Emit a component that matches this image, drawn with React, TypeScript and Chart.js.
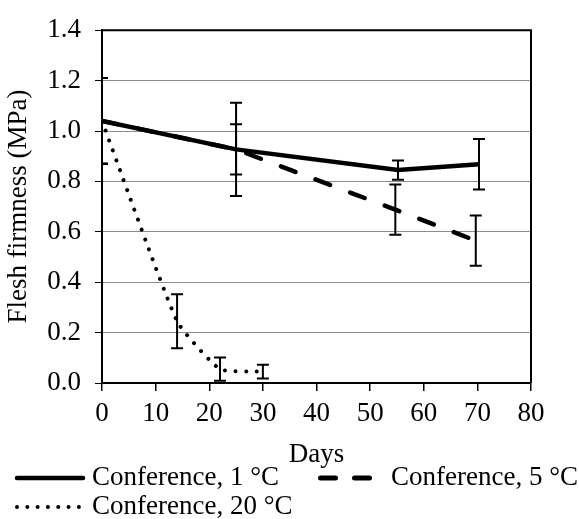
import React, { useEffect, useRef } from "react";
import { Chart, registerables } from "chart.js";

Chart.register(...registerables);

const FONT = "'Liberation Serif', 'Times New Roman', serif";

// Conference, 1 °C
const days1 = [0, 25, 55.2, 70.3];
const firm1 = [1.04, 0.927, 0.845, 0.868];
const err1 = [0.17, 0.185, 0.038, 0.1];

// Conference, 5 °C
const days5 = [0, 25, 54.7, 69.7];
const firm5 = [1.04, 0.927, 0.688, 0.565];
const err5 = [0.17, 0.1, 0.1, 0.1];

// Conference, 20 °C
const days20 = [0, 14, 22, 30];
const firm20 = [1.04, 0.245, 0.055, 0.045];
const err20 = [0.17, 0.107, 0.046, 0.027];

const seriesLabels = ["Conference, 1 °C", "Conference, 5 °C", "Conference, 20 °C"];
const xTitle = "Days";
const yTitle = "Flesh firmness (MPa)";
const xMin = 0, xMax = 80, xStep = 10;
const yMin = 0, yMax = 1.4, yStep = 0.2;

const seriesDays = [days1, days5, days20];
const seriesFirm = [firm1, firm5, firm20];
const seriesErr = [err1, err5, err20];

const errorBarsPlugin = {
  id: "errorBars",
  afterDatasetsDraw(chart: any) {
    const { ctx, chartArea, scales } = chart;
    const x = scales.x, y = scales.y;
    ctx.save();
    ctx.beginPath();
    ctx.rect(chartArea.left, chartArea.top, chartArea.right - chartArea.left, chartArea.bottom - chartArea.top);
    ctx.clip();
    ctx.strokeStyle = "#000";
    ctx.lineWidth = 2;
    ctx.lineCap = "butt";
    seriesDays.forEach((days, s) => {
      days.forEach((d, i) => {
        const e = seriesErr[s][i];
        if (!e) return;
        const px = x.getPixelForValue(d);
        const pt = y.getPixelForValue(seriesFirm[s][i] + e);
        const pb = y.getPixelForValue(seriesFirm[s][i] - e);
        ctx.beginPath();
        ctx.moveTo(px, pt);
        ctx.lineTo(px, pb);
        ctx.moveTo(px - 6, pt);
        ctx.lineTo(px + 6, pt);
        ctx.moveTo(px - 6, pb);
        ctx.lineTo(px + 6, pb);
        ctx.stroke();
      });
    });
    ctx.restore();
  },
};

const frameLegendPlugin = {
  id: "frameLegend",
  beforeDatasetsDraw(chart: any) {
    const { ctx, chartArea } = chart;
    ctx.save();
    ctx.strokeStyle = "#000";
    ctx.lineWidth = 2;
    ctx.beginPath();
    ctx.moveTo(chartArea.left, chartArea.top);
    ctx.lineTo(chartArea.right, chartArea.top);
    ctx.lineTo(chartArea.right, chartArea.bottom);
    ctx.stroke();
    ctx.restore();
  },
  afterDraw(chart: any) {
    const { ctx } = chart;
    ctx.save();
    ctx.strokeStyle = "#000";
    ctx.fillStyle = "#000";
    ctx.font = `27px ${FONT}`;
    ctx.textBaseline = "alphabetic";
    ctx.textAlign = "left";
    // solid sample
    ctx.lineWidth = 4.5;
    ctx.lineCap = "round";
    ctx.setLineDash([]);
    ctx.beginPath();
    ctx.moveTo(17, 478);
    ctx.lineTo(83, 478);
    ctx.stroke();
    ctx.fillText(seriesLabels[0], 92, 485);
    // dashed sample
    ctx.lineWidth = 5;
    ctx.setLineDash([15, 19]);
    ctx.beginPath();
    ctx.moveTo(320.5, 478);
    ctx.lineTo(369.5, 478);
    ctx.stroke();
    ctx.setLineDash([]);
    ctx.fillText(seriesLabels[1], 391, 485);
    // dotted sample
    ctx.lineWidth = 4;
    ctx.setLineDash([0.01, 10.3]);
    ctx.beginPath();
    ctx.moveTo(17, 507);
    ctx.lineTo(80, 507);
    ctx.stroke();
    ctx.setLineDash([]);
    ctx.fillText(seriesLabels[2], 92, 514);
    ctx.restore();
  },
};

export default function App() {
  const ref = useRef<HTMLCanvasElement | null>(null);

  useEffect(() => {
    const canvas = ref.current;
    if (!canvas) return;
    const mk = (days: number[], firm: number[]) => days.map((d, i) => ({ x: d, y: firm[i] }));
    const chart = new Chart(canvas, {
      type: "line",
      data: {
        datasets: [
          {
            label: seriesLabels[2],
            data: mk(days20, firm20),
            borderColor: "#000",
            borderWidth: 4,
            borderDash: [0.01, 10.5],
            borderCapStyle: "round",
            pointRadius: 0,
            tension: 0.15,
            fill: false,
          },
          {
            label: seriesLabels[1],
            data: mk(days5, firm5),
            borderColor: "#000",
            borderWidth: 4.5,
            borderDash: [15.5, 21.5],
            borderCapStyle: "round",
            pointRadius: 0,
            tension: 0,
            fill: false,
          },
          {
            label: seriesLabels[0],
            data: mk(days1, firm1),
            borderColor: "#000",
            borderWidth: 4.5,
            pointRadius: 0,
            tension: 0,
            fill: false,
          },
        ],
      },
      options: {
        animation: false,
        responsive: false,
        devicePixelRatio: 1,
        layout: { padding: { top: 19, right: 48, bottom: 48, left: 0 } },
        plugins: { legend: { display: false }, tooltip: { enabled: false } },
        scales: {
          x: {
            type: "linear",
            min: xMin,
            max: xMax,
            afterFit: (s: any) => { s.height = 88; },
            ticks: { stepSize: xStep, color: "#000", font: { family: FONT, size: 27 }, padding: 7, maxRotation: 0, autoSkip: false },
            grid: { drawOnChartArea: false, color: "#000", tickColor: "#000", tickLength: 8, lineWidth: 1.5 },
            border: { display: true, color: "#000", width: 2 },
            title: { display: true, text: xTitle, color: "#000", font: { family: FONT, size: 27 }, padding: { top: 0, bottom: 0 } },
          },
          y: {
            type: "linear",
            min: yMin,
            max: yMax,
            afterFit: (s: any) => { s.width = 102; },
            ticks: { stepSize: yStep, color: "#000", font: { family: FONT, size: 27 }, padding: 14, callback: (v: any) => Number(v).toFixed(1) },
            grid: {
              color: (c: any) => (c.tick && Math.abs(c.tick.value - yMax) < 1e-6 ? "#000" : "#8c8c8c"),
              tickColor: "#000",
              tickLength: 7,
              lineWidth: 1,
            },
            border: { display: true, color: "#000", width: 2 },
            title: { display: true, text: yTitle, color: "#000", font: { family: FONT, size: 27 }, padding: { top: 3, bottom: 0 } },
          },
        },
      },
      plugins: [errorBarsPlugin, frameLegendPlugin],
    });
    return () => chart.destroy();
  }, []);

  return (
    <div style={{ position: "fixed", left: 0, top: 0, width: 579, height: 519, background: "#fff" }}>
      <canvas ref={ref} width={579} height={519} style={{ display: "block", width: 579, height: 519 }} />
    </div>
  );
}
